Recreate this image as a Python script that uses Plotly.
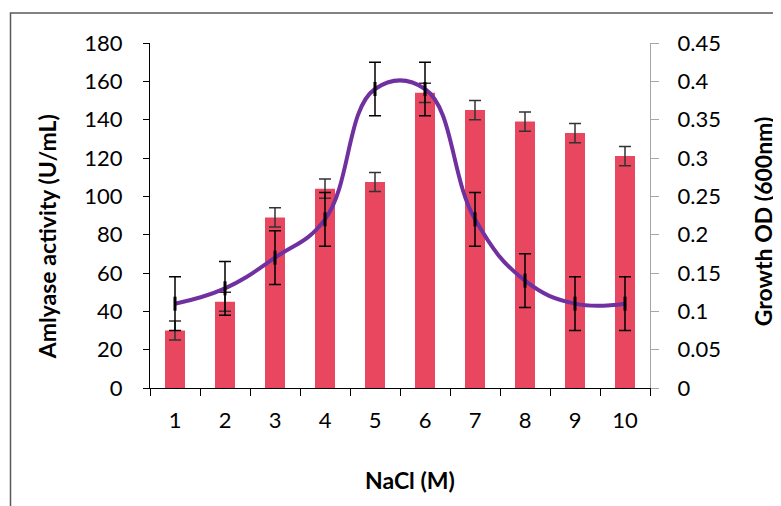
import plotly.graph_objects as go

# ---- data ----
nacl = ["1", "2", "3", "4", "5", "6", "7", "8", "9", "10"]
amylase = [30, 45, 89, 104, 107.5, 154, 145, 139, 133, 121]
amylase_err = [5, 5, 5, 5, 5, 5, 5, 5, 5, 5]
growth = [0.11, 0.13, 0.17, 0.22, 0.39, 0.39, 0.22, 0.14, 0.11, 0.11]
growth_err = [0.035, 0.035, 0.035, 0.035, 0.035, 0.035, 0.035, 0.035, 0.035, 0.035]
y1_ticks = [0, 20, 40, 60, 80, 100, 120, 140, 160, 180]
y2_ticks = [0, 0.05, 0.1, 0.15, 0.2, 0.25, 0.3, 0.35, 0.4, 0.45]
y2_labels = ["0", "0.05", "0.1", "0.15", "0.2", "0.25", "0.3", "0.35", "0.4", "0.45"]

FONT = "Lato"
BAR = "#E8475F"
LINE = "#7030A0"

fig = go.Figure()
fig.add_trace(go.Bar(
    x=nacl, y=amylase, marker=dict(color=BAR, line=dict(width=0)),
    error_y=dict(type="data", array=amylase_err, color="#333333", thickness=1.5, width=6),
    yaxis="y", showlegend=False,
))
fig.add_trace(go.Scatter(
    x=nacl, y=growth, mode="lines+markers", yaxis="y2",
    line=dict(color=LINE, width=4, shape="spline", smoothing=1.2),
    marker=dict(symbol="line-ns", size=10, line=dict(color="black", width=3), color="black"),
    error_y=dict(type="data", array=growth_err, color="black", thickness=1.5, width=6),
    showlegend=False,
))

axfont = dict(family=FONT, size=22, color="black")
titlefont = dict(family=FONT, size=23, color="black")
fig.update_layout(
    width=781, height=506,
    margin=dict(l=142, r=139, t=35, b=126),
    paper_bgcolor="white", plot_bgcolor="white",
    bargap=0.6,
    font=dict(family=FONT, color="black"),
    xaxis=dict(type="category", range=[-0.5, 9.5], showline=True, linecolor="black", linewidth=1.2,
               ticks="outside", tickson="boundaries", ticklen=7, tickcolor="black", tickwidth=1.2,
               ticklabelstandoff=12,
               tickfont=axfont, showgrid=False, zeroline=False),
    yaxis=dict(range=[0, 180], tickvals=y1_ticks, showline=True, linecolor="black", linewidth=1.2,
               ticks="outside", ticklen=6, tickcolor="black", tickwidth=1.2,
               ticklabelstandoff=16,
               tickfont=axfont, showgrid=False, zeroline=False),
    yaxis2=dict(range=[0, 0.45], overlaying="y", side="right", tickvals=y2_ticks, ticktext=y2_labels,
                showline=True, linecolor="#A6A6A6", linewidth=1.2,
                ticks="outside", ticklen=8, tickcolor="#A6A6A6", tickwidth=1.2,
                ticklabelstandoff=14,
                tickfont=axfont, showgrid=False, zeroline=False),
    shapes=[dict(type="rect", xref="paper", yref="paper", x0=-0.279, x1=1.6, y0=-0.6, y1=1.087,
                 line=dict(color="#595959", width=1.5), fillcolor="rgba(0,0,0,0)", layer="below")],
    annotations=[
        dict(text="<b>Amlyase activity (U/mL)</b>", xref="paper", yref="paper", x=-0.206, y=0.437,
             textangle=-90, showarrow=False, font=titlefont,
             xanchor="center", yanchor="middle"),
        dict(text="<b>Growth OD (600nm)</b>", xref="paper", yref="paper", x=1.225, y=0.482,
             textangle=-90, showarrow=False, font=titlefont,
             xanchor="center", yanchor="middle"),
        dict(text="<b>NaCl (M)</b>", xref="paper", yref="paper", x=0.519, y=-0.266,
             showarrow=False, font=titlefont,
             xanchor="center", yanchor="middle"),
    ],
)
fig.write_html("out.html")
